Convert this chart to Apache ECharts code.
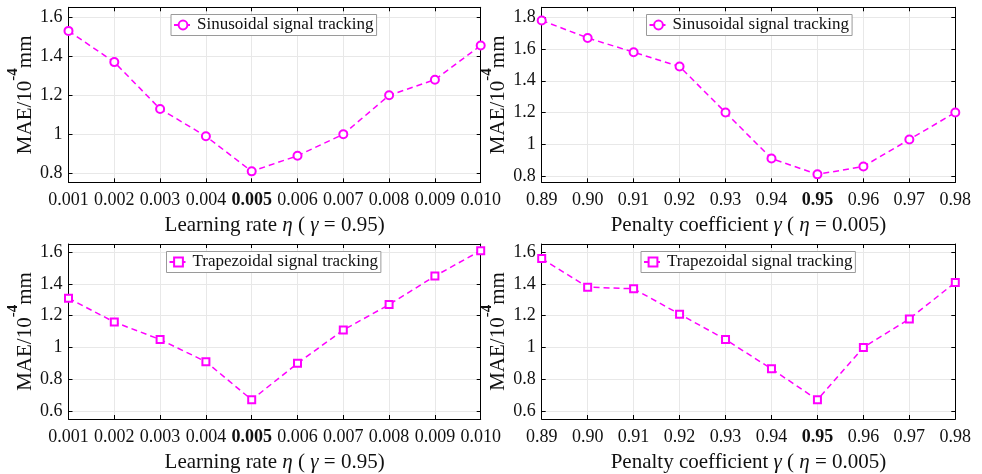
<!DOCTYPE html>
<html><head><meta charset="utf-8">
<script src="https://cdn.jsdelivr.net/npm/echarts@6/dist/echarts.min.js"></script>
<style>html,body{margin:0;padding:0;background:#fff}#c{width:982px;height:474px}</style>
</head><body><div id="c"></div>
<script>
// ---- data ----
const etaCategories = ['0.001','0.002','0.003','0.004','0.005','0.006','0.007','0.008','0.009','0.010'];
const gammaCategories = ['0.89','0.90','0.91','0.92','0.93','0.94','0.95','0.96','0.97','0.98'];
const sinEta = [1.53, 1.37, 1.13, 0.99, 0.81, 0.89, 1.00, 1.20, 1.28, 1.455];
const sinGamma = [1.78, 1.67, 1.58, 1.49, 1.20, 0.91, 0.81, 0.86, 1.03, 1.20];
const trapEta = [1.31, 1.16, 1.05, 0.91, 0.67, 0.90, 1.11, 1.27, 1.45, 1.61];
const trapGamma = [1.56, 1.38, 1.37, 1.21, 1.05, 0.865, 0.67, 1.00, 1.18, 1.41];
const yTicksSinEta = [0.8, 1, 1.2, 1.4, 1.6];
const yTicksSinGamma = [0.8, 1, 1.2, 1.4, 1.6, 1.8];
const yTicksTrap = [0.6, 0.8, 1, 1.2, 1.4, 1.6];
const boldEta = '0.005';
const boldGamma = '0.95';
const sinName = 'Sinusoidal signal tracking';
const trapName = 'Trapezoidal signal tracking';

const FONT = 'Liberation Serif';
const MAG = '#ff00ff';
const TXT = '#111';

const panels = [
  {grid:{left:68.5, top:7.3, width:412.2, height:175}, cats:etaCategories, bold:boldEta, vals:sinEta, name:sinName, sym:'emptyCircle', symSize:8,
   ymin:0.754, ymax:1.651, ticks:yTicksSinEta, legend:{left:171, top:14.5}, xname:'eta'},
  {grid:{left:541.7, top:7.3, width:413.6, height:175}, cats:gammaCategories, bold:boldGamma, vals:sinGamma, name:sinName, sym:'emptyCircle', symSize:8,
   ymin:0.76, ymax:1.863, ticks:yTicksSinGamma, legend:{left:646.5, top:14.5}, xname:'gamma'},
  {grid:{left:68.5, top:244, width:412.2, height:175}, cats:etaCategories, bold:boldEta, vals:trapEta, name:trapName, sym:'emptyRect', symSize:7,
   ymin:0.549, ymax:1.652, ticks:yTicksTrap, legend:{left:166.5, top:251.5}, xname:'eta'},
  {grid:{left:541.7, top:244, width:413.6, height:175}, cats:gammaCategories, bold:boldGamma, vals:trapGamma, name:trapName, sym:'emptyRect', symSize:7,
   ymin:0.549, ymax:1.652, ticks:yTicksTrap, legend:{left:641, top:251.5}, xname:'gamma'}
];

const xNames = {
  eta: '{a|Learning rate }{i|η}{a| ( }{i|γ}{a| = 0.95)}',
  gamma: '{a|Penalty coefficient }{i|γ}{a| ( }{i|η}{a| = 0.005)}'
};
const nameRich = {
  a:{fontFamily:FONT, fontSize:21, color:TXT},
  i:{fontFamily:FONT, fontSize:21, fontStyle:'italic', color:TXT}
};
const yNameRich = {
  a:{fontFamily:FONT, fontSize:21, color:TXT, lineHeight:30, verticalAlign:'bottom'},
  s:{fontFamily:FONT, fontSize:15, color:TXT, fontWeight:'bold', lineHeight:14, verticalAlign:'top'}
};

const grids=[], xAxes=[], yAxes=[], series=[], legends=[];
panels.forEach((p, gi) => {
  grids.push(Object.assign({containLabel:false}, p.grid));
  const baseLine = {show:true, lineStyle:{color:'#000', width:1}};
  const tick = {show:true, inside:true, length:4, lineStyle:{color:'#000', width:1}};
  xAxes.push({
    type:'category', gridIndex:gi, data:p.cats, boundaryGap:false, position:'bottom',
    axisLine:baseLine, axisTick:tick,
    axisLabel:{margin:9, fontFamily:FONT, fontSize:18, color:TXT, interval:0,
      formatter: v => v === p.bold ? '{b|' + v + '}' : v,
      rich:{b:{fontFamily:FONT, fontSize:18, fontWeight:'bold', color:TXT}}},
    splitLine:{show:true, lineStyle:{color:'#e8e8e8', width:1}},
    name:xNames[p.xname], nameLocation:'middle', nameGap:33,
    nameTextStyle:{rich:nameRich}
  });
  xAxes.push({
    type:'category', gridIndex:gi, data:p.cats, boundaryGap:false, position:'top',
    axisLine:baseLine, axisTick:tick, axisLabel:{show:false}, splitLine:{show:false}
  });
  yAxes.push({
    type:'value', gridIndex:gi, min:p.ymin, max:p.ymax, position:'left',
    axisLine:baseLine,
    axisTick:Object.assign({customValues:p.ticks}, tick),
    axisLabel:{customValues:p.ticks, margin:6, fontFamily:FONT, fontSize:18, color:TXT,
      formatter: v => String(Math.round(v*10)/10)},
    splitLine:{show:true, lineStyle:{color:'#e8e8e8', width:1}},
    name:'{a|MAE/10}{s|-4}{a|mm}', nameLocation:'middle', nameGap:30,
    nameTextStyle:{rich:yNameRich}
  });
  yAxes.push({
    type:'value', gridIndex:gi, min:p.ymin, max:p.ymax, position:'right',
    axisLine:baseLine,
    axisTick:Object.assign({customValues:p.ticks}, tick),
    axisLabel:{show:false, customValues:p.ticks}, splitLine:{show:false}
  });
  series.push({
    type:'line', name:p.name, xAxisIndex:gi*2, yAxisIndex:gi*2, data:p.vals,
    symbol:p.sym, symbolSize:p.symSize, showAllSymbol:true,
    itemStyle:{color:MAG, borderWidth:1.6},
    lineStyle:{color:MAG, width:1.5, type:[6,4]},
    emphasis:{disabled:true}, z:3
  });
  legends.push({
    data:[p.name], left:p.legend.left, top:p.legend.top, orient:'horizontal',
    backgroundColor:'#fff', borderColor:'#9a9a9a', borderWidth:1, borderRadius:0,
    padding:[2,3,2,2], itemWidth:18, itemHeight:11, itemGap:0,
    textStyle:{fontFamily:FONT, fontSize:17, color:TXT},
    selectedMode:false
  });
});

const chart = echarts.init(document.getElementById('c'), null, {renderer:'canvas'});
chart.setOption({
  animation:false, backgroundColor:'#fff',
  grid:grids, xAxis:xAxes, yAxis:yAxes, series:series, legend:legends
});
</script></body></html>
